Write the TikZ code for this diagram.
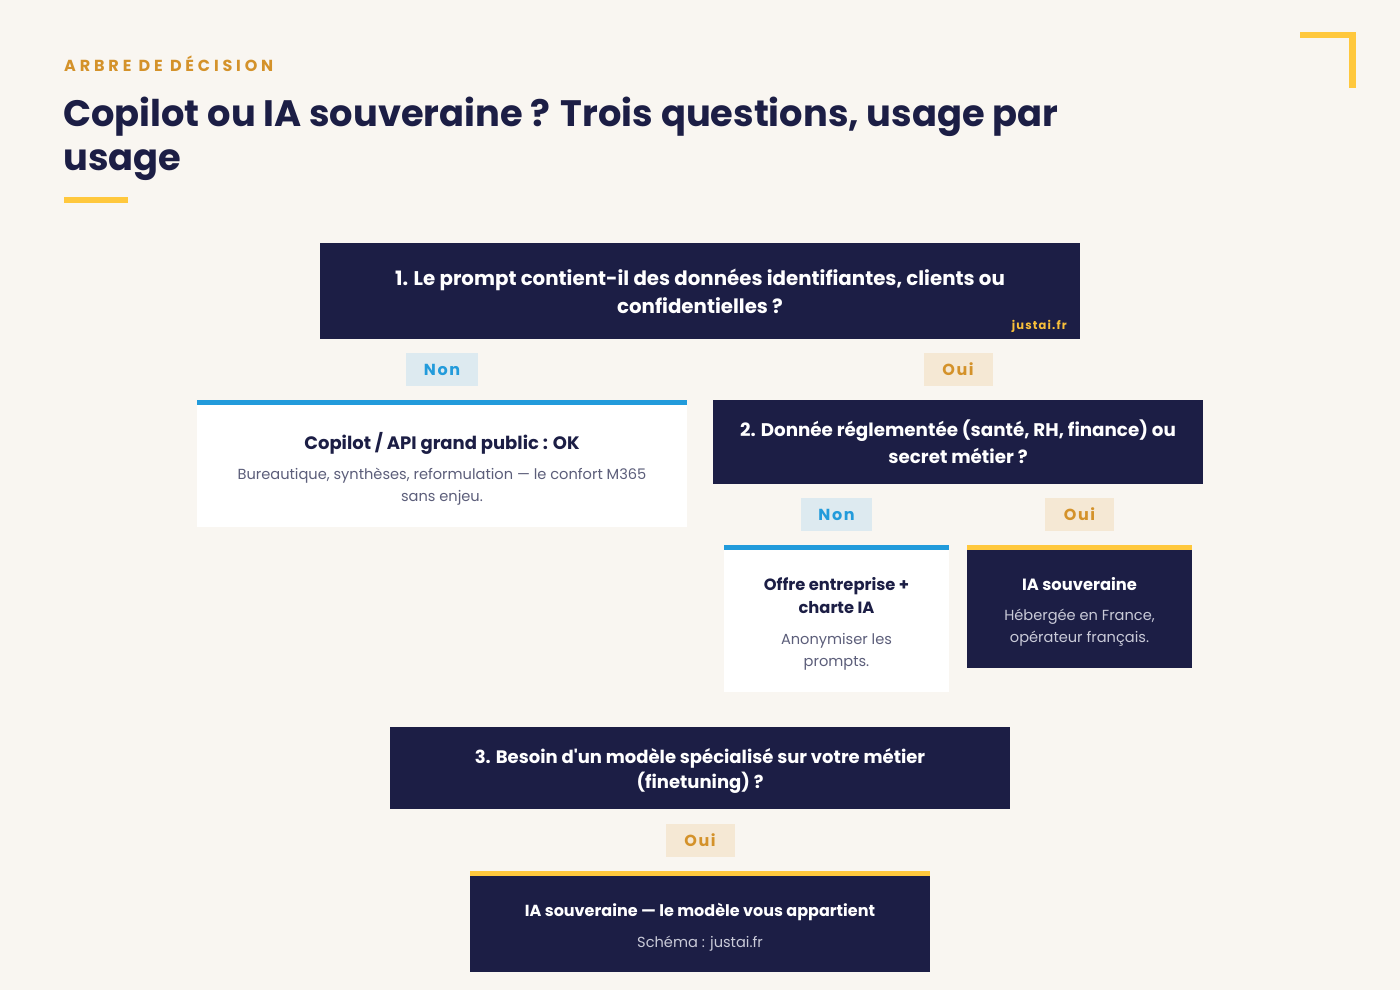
\documentclass[tikz,border=0pt]{standalone}
\usepackage{fontspec}
\setmainfont{Poppins}
\newfontfamily\trackfont[LetterSpace=24]{Poppins}
\newfontfamily\tagfont[LetterSpace=10]{Poppins}
\usetikzlibrary{positioning}
\definecolor{paper}{HTML}{F9F6F1}
\definecolor{navy}{HTML}{1C1E45}
\definecolor{gold}{HTML}{FFC83D}
\definecolor{ochre}{HTML}{D4922A}
\definecolor{sky}{HTML}{229BDB}
\definecolor{nonbg}{HTML}{DDEAF0}
\definecolor{ouibg}{HTML}{F5E8D4}
\definecolor{greytext}{HTML}{5C5E7A}
\definecolor{palegrey}{HTML}{C9CAD8}
\tikzset{
  darkbox/.style={fill=navy,inner sep=0pt},
  whitebox/.style={fill=white,inner sep=0pt},
  qtext/.style={anchor=base,align=center,text=white,inner sep=0pt,font=\bfseries\fontsize{18.3}{27}\selectfont},
  headtext/.style={anchor=base,align=center,inner sep=0pt,font=\bfseries\fontsize{17}{23}\selectfont},
  bodytext/.style={anchor=base,align=center,inner sep=0pt,text=greytext,font=\fontsize{14.6}{22}\selectfont},
  nontag/.style={fill=nonbg,text=sky,minimum width=72pt,minimum height=33pt,inner sep=0pt,font=\tagfont\bfseries\fontsize{16}{16}\selectfont},
  ouitag/.style={fill=ouibg,text=ochre,minimum width=69pt,minimum height=33pt,inner sep=0pt,font=\tagfont\bfseries\fontsize{16}{16}\selectfont}
}

\begin{document}
\begin{tikzpicture}[x=1pt,y=-1pt]
\fill[paper] (0,0) rectangle (1400,990);
\useasboundingbox (0,0) rectangle (1400,990);
% heading
\node[anchor=base west,inner sep=0pt,text=ochre,font=\trackfont\bfseries\fontsize{16}{16}\selectfont] (kicker) at (64,72) {ARBRE DE DÉCISION};
\node[anchor=base west,align=left,inner sep=0pt,text=navy,font=\bfseries\fontsize{36.8}{44}\selectfont] (title) at (63,170) {Copilot ou IA souveraine ? Trois questions, usage par\\usage};
\fill[gold] (64,197) rectangle (128,203);
\fill[gold] (1300,32) rectangle (1356,38);
\fill[gold] (1349,32) rectangle (1356,88);

% question 1
\node[darkbox,minimum width=760pt,minimum height=96pt] (q1) at (700,291) {};
\node[qtext,font=\bfseries\fontsize{19.8}{28}\selectfont] (q1txt) at (700,313) {1. Le prompt contient-il des données identifiantes, clients ou\\confidentielles ?};
\node[anchor=base east,inner sep=0pt,text=gold!85!ochre,font=\tagfont\bfseries\fontsize{11.5}{11.5}\selectfont] (mark) at (1067,329) {justai.fr};
\node[nontag] (non1) at (442,369.5) {Non};
\node[ouitag] (oui1) at (958,369.5) {Oui};

% branche non
\node[whitebox,minimum width=490pt,minimum height=127pt] (copilot) at (442,463.5) {};
\fill[sky] (copilot.north west) rectangle ([yshift=-5pt]copilot.north east);
\node[headtext,text=navy,font=\bfseries\fontsize{18}{23}\selectfont] (copilothead) at (442,449) {Copilot / API grand public : OK};
\node[bodytext] (copilotbody) at (442,501) {Bureautique, synthèses, reformulation — le confort M365\\sans enjeu.};

% question 2
\node[darkbox,minimum width=490pt,minimum height=84pt] (q2) at (958,442) {};
\node[qtext] (q2txt) at (958,463) {2. Donnée réglementée (santé, RH, finance) ou\\secret métier ?};
\node[nontag,minimum width=71pt] (non2) at (836.5,514.5) {Non};
\node[ouitag] (oui2) at (1079.5,514.5) {Oui};

\node[whitebox,minimum width=225pt,minimum height=147pt] (offre) at (836.5,618.5) {};
\fill[sky] (offre.north west) rectangle ([yshift=-5pt]offre.north east);
\node[headtext,text=navy,font=\bfseries\fontsize{16.3}{23}\selectfont] (offrehead) at (836.5,613) {Offre entreprise +\\charte IA};
\node[bodytext] (offrebody) at (836.5,666) {Anonymiser les\\prompts.};

\node[darkbox,minimum width=225pt,minimum height=123pt] (souv) at (1079.5,606.5) {};
\fill[gold] (souv.north west) rectangle ([yshift=-5pt]souv.north east);
\node[headtext,text=white,font=\bfseries\fontsize{16.3}{23}\selectfont] (souvhead) at (1079.5,590) {IA souveraine};
\node[bodytext,text=palegrey] (souvbody) at (1079.5,642) {Hébergée en France,\\opérateur français.};

% question 3
\node[darkbox,minimum width=620pt,minimum height=82pt] (q3) at (700,768) {};
\node[qtext,font=\bfseries\fontsize{18}{25}\selectfont] (q3txt) at (700,788) {3. Besoin d\textquotesingle un modèle spécialisé sur votre métier\\(finetuning) ?};
\node[ouitag] (oui3) at (700,840.5) {Oui};

\node[darkbox,minimum width=460pt,minimum height=101pt] (final) at (700,921.5) {};
\fill[gold] (final.north west) rectangle ([yshift=-5pt]final.north east);
\node[headtext,text=white,font=\bfseries\fontsize{16}{23}\selectfont] (finalhead) at (700,916) {IA souveraine — le modèle vous appartient};
\node[bodytext,text=palegrey] (finalbody) at (700,947) {Schéma : justai.fr};
\end{tikzpicture}
\end{document}
